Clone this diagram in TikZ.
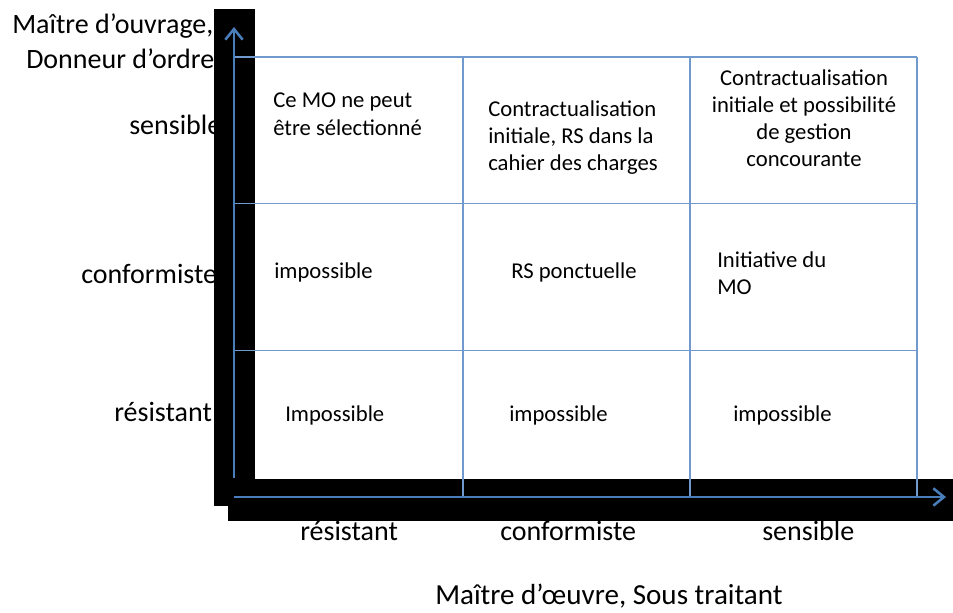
\documentclass[tikz,border=0pt]{standalone}
\usepackage{fontspec}
\setmainfont{Carlito}
\usetikzlibrary{arrows.meta}
\definecolor{axisblue}{HTML}{4A7EBB}
\definecolor{gridblue}{HTML}{7099CE}
\begin{document}
\begin{tikzpicture}[x=0.75pt,y=-0.75pt,
  axislab/.style={font=\fontsize{21}{26}\selectfont, inner sep=0, anchor=base west},
  celltxt/.style={font=\fontsize{17}{20.3}\selectfont, inner sep=0},
  gridline/.style={draw=gridblue, line width=0.9pt},
  axisline/.style={draw=axisblue, line width=1.9pt, -{Straight Barb[length=8pt,width=13pt]}},
  blackbar/.style={fill=black}]
\useasboundingbox (0,0) rectangle (953,612);
% axis labels (behind the black bars)
\node[axislab] (mo1) at (12,33) {Maître d’ouvrage,};
\node[axislab] (mo2) at (26,68) {Donneur d’ordre};
\node[axislab] (rsens) at (129,134) {sensible};
\node[axislab] (rconf) at (81,283) {conformiste};
\node[axislab] (rres) at (114,421) {résistant};
\node[axislab] (cres) at (300,540) {résistant};
\node[axislab] (cconf) at (500,540) {conformiste};
\node[axislab] (csens) at (762,540) {sensible};
\node[axislab, font=\fontsize{21.8}{26}\selectfont] (moe) at (435,604) {Maître d’œuvre, Sous traitant};
% black bars
\path[blackbar] (214,9) rectangle (255,506);
\path[blackbar] (228,479) rectangle (953,521);
% grid
\coordinate (g00) at (234,57);
\coordinate (g0e) at (917,57);
\coordinate (g10) at (234,203.7);
\coordinate (g1e) at (917,203.7);
\coordinate (g20) at (234,350.3);
\coordinate (g2e) at (917,350.3);
\coordinate (v1t) at (463,57);
\coordinate (v1b) at (463,497);
\coordinate (v2t) at (690,57);
\coordinate (v2b) at (690,497);
\coordinate (v3t) at (917,57);
\coordinate (v3b) at (917,497);
\draw[gridline] (g00) -- (g0e);
\draw[gridline] (g10) -- (g1e);
\draw[gridline] (g20) -- (g2e);
\draw[gridline] (v1t) -- (v1b);
\draw[gridline] (v2t) -- (v2b);
\draw[gridline] (v3t) -- (v3b);
% axes
\coordinate (yfrom) at (234,478);
\coordinate (yto) at (234,27);
\coordinate (xfrom) at (234,497);
\coordinate (xto) at (946,497);
\draw[axisline] (yfrom) -- (yto);
\draw[axisline] (xfrom) -- (xto);
% cell texts
\node[celltxt, anchor=north west, align=left] (c11) at (273,93) {Ce MO ne peut\\être sélectionné};
\node[celltxt, anchor=north west, align=left] (c12) at (488,100) {Contractualisation\\initiale, RS dans la\\cahier des charges};
\node[celltxt, anchor=north, align=center] (c13) at (804,69) {Contractualisation\\initiale et possibilité\\de gestion\\concourante};
\node[celltxt, anchor=base west] (c21) at (274,278) {impossible};
\node[celltxt, anchor=base] (c22) at (574,278) {RS ponctuelle};
\node[celltxt, anchor=north west, align=left] (c23) at (717,251) {Initiative du\\MO};
\node[celltxt, anchor=base west] (c31) at (285,421) {Impossible};
\node[celltxt, anchor=base west] (c32) at (509,421) {impossible};
\node[celltxt, anchor=base west] (c33) at (733,421) {impossible};
\end{tikzpicture}
\end{document}
